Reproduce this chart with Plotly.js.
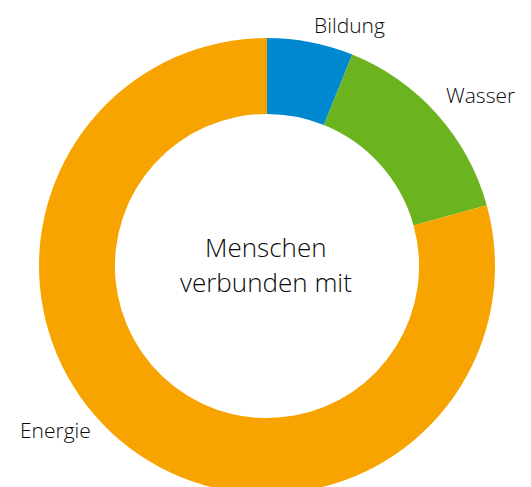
<!DOCTYPE html>
<html>
<head>
<meta charset="utf-8">
<script src="https://cdn.plot.ly/plotly-3.0.1.min.js"></script>
<style>
html,body{margin:0;padding:0;overflow:hidden;background:#fff;}
#chart{width:531px;height:532px;}
</style>
</head>
<body>
<div id="chart"></div>
<script>
// Data (shares in percent)
var categories = ["Bildung", "Wasser", "Energie"];
var values = [6.1, 14.6, 79.3];
var colors = ["#0089D0", "#6CB41F", "#F7A400"];
var centerLines = ["Menschen", "verbunden mit"];

var W = 531, H = 532;
function px(x){ return x / W; }
function py(y){ return (H - y) / H; }

var textColor = "#0a0a0a";
var labelFont = {family: "Open Sans, sans-serif", size: 21, color: textColor, weight: 300};
var centerFont = {family: "Open Sans, sans-serif", size: 26, color: textColor, weight: 300};

var trace = {
  type: "pie",
  labels: categories,
  values: values,
  hole: 0.667,
  sort: false,
  direction: "clockwise",
  rotation: 0,
  marker: {colors: colors, line: {width: 0}},
  textinfo: "none",
  hoverinfo: "label+percent",
  showlegend: false,
  domain: {x: [px(39), px(495)], y: [py(494), py(38)]}
};

var labelPos = [
  {x: 314, y: 25.2, xanchor: "left"},
  {x: 446, y: 95.2, xanchor: "left"},
  {x: 91, y: 430.2, xanchor: "right"}
];
var annotations = categories.map(function(c, i){
  return {
    text: c, xref: "paper", yref: "paper",
    x: px(labelPos[i].x), y: py(labelPos[i].y),
    xanchor: labelPos[i].xanchor, yanchor: "middle",
    showarrow: false, font: labelFont, borderpad: 0, borderwidth: 0
  };
});
var centerY = [246.6, 281.6];
centerLines.forEach(function(t, i){
  annotations.push({
    text: t, xref: "paper", yref: "paper",
    x: px(266), y: py(centerY[i]),
    xanchor: "center", yanchor: "middle",
    showarrow: false, font: centerFont, borderpad: 0, borderwidth: 0
  });
});

var layout = {
  width: W, height: H,
  margin: {l: 0, r: 0, t: 0, b: 0},
  paper_bgcolor: "#ffffff",
  plot_bgcolor: "#ffffff",
  annotations: annotations
};

Plotly.newPlot("chart", [trace], layout, {displayModeBar: false, staticPlot: true});
</script>
</body>
</html>
